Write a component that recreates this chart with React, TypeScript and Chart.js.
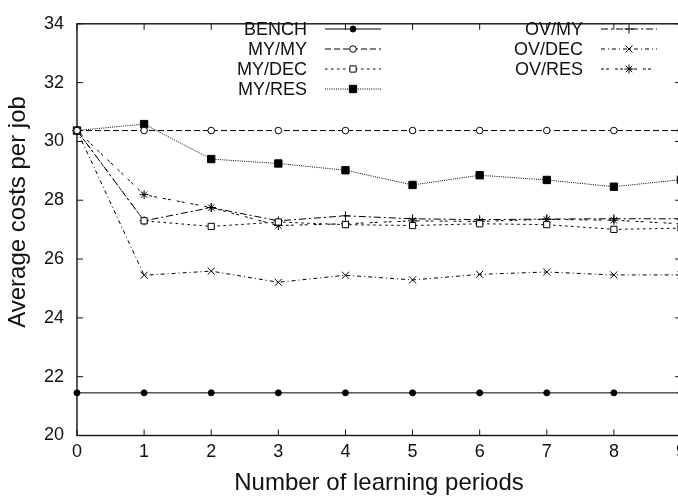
import React, { useEffect, useRef } from 'react';
import { Chart, registerables } from 'chart.js';
import { drawPoint } from 'chart.js/helpers';

Chart.register(...registerables);

const periods = [0, 1, 2, 3, 4, 5, 6, 7, 8, 9];
const seriesLabels = ['BENCH', 'MY/MY', 'MY/DEC', 'MY/RES', 'OV/MY', 'OV/DEC', 'OV/RES'];
const bench = [21.45, 21.45, 21.45, 21.45, 21.45, 21.45, 21.45, 21.45, 21.45, 21.45];
const myMy = [30.37, 30.37, 30.37, 30.37, 30.37, 30.37, 30.37, 30.37, 30.37, 30.37];
const myDec = [30.37, 27.3, 27.11, 27.26, 27.17, 27.14, 27.2, 27.17, 27.01, 27.05];
const myRes = [30.37, 30.59, 29.4, 29.25, 29.02, 28.52, 28.85, 28.69, 28.46, 28.7];
const ovMy = [30.37, 27.3, 27.75, 27.3, 27.47, 27.37, 27.34, 27.36, 27.37, 27.37];
const ovDec = [30.37, 25.45, 25.59, 25.21, 25.45, 25.29, 25.48, 25.56, 25.46, 25.46];
const ovRes = [30.37, 28.19, 27.75, 27.14, 27.2, 27.3, 27.28, 27.35, 27.32, 27.2];
const xMin = 0;
const xMax = 9;
const yMin = 20;
const yMax = 34;
const yStep = 2;
const xTitle = 'Number of learning periods';
const yTitle = 'Average costs per job';

const FONT = '"Liberation Sans", Arial, Helvetica, sans-serif';
const INK = '#111';

type Style = { dash: number[]; pointStyle: string; radius: number; bg: string };
const styles: Style[] = [
  { dash: [], pointStyle: 'circle', radius: 3, bg: '#000' },
  { dash: [6, 3], pointStyle: 'circle', radius: 3.3, bg: '#fff' },
  { dash: [2.5, 3.5], pointStyle: 'rect', radius: 4.4, bg: '#fff' },
  { dash: [1, 1.2], pointStyle: 'rect', radius: 5.2, bg: '#000' },
  { dash: [7, 3, 2, 3], pointStyle: 'cross', radius: 4.5, bg: '#000' },
  { dash: [4, 3, 1, 3], pointStyle: 'crossRot', radius: 5, bg: '#000' },
  { dash: [3, 2, 3, 6], pointStyle: 'star', radius: 4.5, bg: '#000' },
];
const allSeries = [bench, myMy, myDec, myRes, ovMy, ovDec, ovRes];

// legend layout: [textRight, sampleStart, sampleEnd, rowY]
const legendLayout = [
  [307, 325, 381, 29],
  [307, 325, 381, 49],
  [307, 325, 381, 69],
  [307, 325, 381, 89],
  [583, 601, 657, 29],
  [583, 601, 657, 49],
  [583, 601, 657, 69],
];

const framePlugin = {
  id: 'gnuFrame',
  beforeDatasetsDraw(chart: any) {
    const { ctx, chartArea: a, scales } = chart;
    ctx.save();
    ctx.strokeStyle = INK;
    ctx.lineWidth = 1.4;
    ctx.setLineDash([]);
    ctx.strokeRect(a.left, a.top, a.right - a.left, a.bottom - a.top);
    const tl = 6;
    ctx.lineWidth = 1;
    ctx.beginPath();
    scales.x.ticks.forEach((t: any) => {
      const px = scales.x.getPixelForValue(t.value);
      ctx.moveTo(px, a.bottom);
      ctx.lineTo(px, a.bottom - tl);
      ctx.moveTo(px, a.top);
      ctx.lineTo(px, a.top + tl);
    });
    scales.y.ticks.forEach((t: any) => {
      const py = scales.y.getPixelForValue(t.value);
      ctx.moveTo(a.left, py);
      ctx.lineTo(a.left + tl, py);
      ctx.moveTo(a.right, py);
      ctx.lineTo(a.right - tl, py);
    });
    ctx.stroke();
    // y-axis title (gnuplot places it slightly above the plot centre)
    ctx.fillStyle = INK;
    ctx.font = `24px ${FONT}`;
    ctx.textAlign = 'center';
    ctx.textBaseline = 'middle';
    ctx.translate(18, 212);
    ctx.rotate(-Math.PI / 2);
    ctx.fillText(yTitle, 0, 0);
    ctx.restore();
  },
};

const legendPlugin = {
  id: 'gnuLegend',
  afterDraw(chart: any) {
    const { ctx } = chart;
    chart.data.datasets.forEach((ds: any, i: number) => {
      const [tr, s0, s1, y] = legendLayout[i];
      ctx.save();
      ctx.fillStyle = INK;
      ctx.font = `18px ${FONT}`;
      ctx.textAlign = 'right';
      ctx.textBaseline = 'middle';
      ctx.fillText(ds.label, tr, y + 1);
      ctx.strokeStyle = '#000';
      ctx.lineWidth = 1;
      ctx.setLineDash(ds.borderDash || []);
      ctx.beginPath();
      ctx.moveTo(s0, y);
      ctx.lineTo(s1, y);
      ctx.stroke();
      ctx.setLineDash([]);
      ctx.fillStyle = ds.pointBackgroundColor;
      ctx.strokeStyle = '#000';
      drawPoint(ctx, { pointStyle: ds.pointStyle, radius: ds.pointRadius, borderWidth: 1, rotation: 0 } as any, (s0 + s1) / 2, y);
      ctx.restore();
    });
  },
};

export default function App() {
  const ref = useRef<HTMLCanvasElement>(null);
  useEffect(() => {
    if (!ref.current) return;
    const datasets = allSeries.map((vals, i) => ({
      label: seriesLabels[i],
      data: periods.map((x, k) => ({ x, y: vals[k] })),
      borderColor: '#000',
      borderWidth: 1,
      borderDash: styles[i].dash,
      pointStyle: styles[i].pointStyle,
      pointRadius: styles[i].radius,
      pointBackgroundColor: styles[i].bg,
      pointBorderColor: '#000',
      pointBorderWidth: 1,
      fill: false,
      tension: 0,
      clip: false,
    }));
    const chart = new Chart(ref.current, {
      type: 'line',
      data: { datasets } as any,
      options: {
        responsive: false,
        animation: false,
        devicePixelRatio: 1,
        layout: { padding: { top: 13, right: 19, bottom: 0, left: 0 } },
        plugins: { legend: { display: false }, tooltip: { enabled: false } },
        scales: {
          x: {
            type: 'linear',
            min: xMin,
            max: xMax,
            grid: { display: false, drawTicks: false },
            border: { display: false },
            ticks: { stepSize: 1, padding: 6, color: INK, font: { family: FONT, size: 18 } },
            title: { display: true, text: xTitle, color: INK, font: { family: FONT, size: 24 }, padding: { top: 0, bottom: 0 } },
            afterFit: (s: any) => { s.height = 62.5; },
          },
          y: {
            type: 'linear',
            min: yMin,
            max: yMax,
            grid: { display: false, drawTicks: false },
            border: { display: false },
            ticks: { stepSize: yStep, padding: 13, color: INK, font: { family: FONT, size: 18 } },
            title: { display: false, text: yTitle },
            afterFit: (s: any) => { s.width = 77; },
          },
        },
      } as any,
      plugins: [framePlugin, legendPlugin],
    });
    return () => chart.destroy();
  }, []);
  return (
    <div style={{ position: 'fixed', left: 0, top: 0, width: 678, height: 498, overflow: 'hidden', background: '#fff' }}>
      <canvas ref={ref} width={700} height={498} style={{ display: 'block' }} />
    </div>
  );
}
